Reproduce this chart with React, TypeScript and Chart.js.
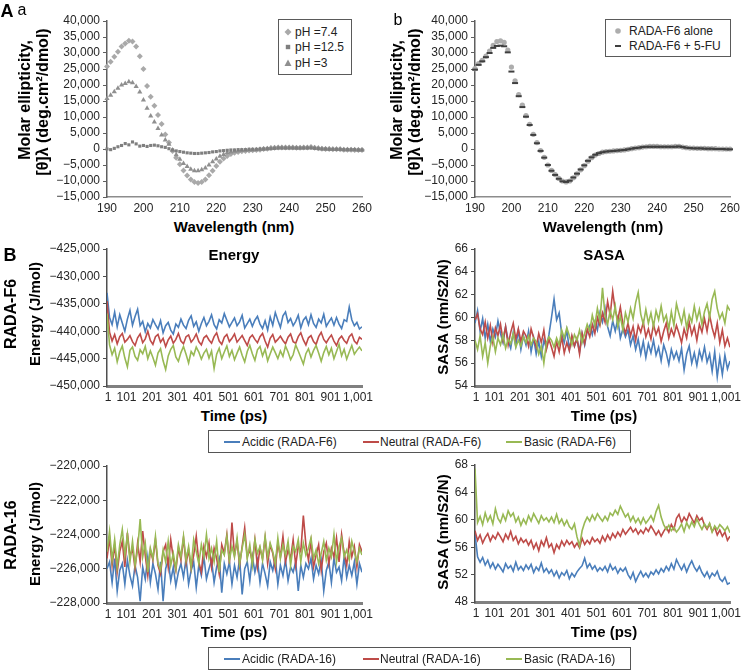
import React, { useEffect, useRef } from "react";
import { Chart, registerables } from "chart.js";

Chart.register(...registerables);

const FONT = '"Liberation Sans", Arial, Helvetica, sans-serif';
Chart.defaults.font.family = FONT;

// ---------- Panel A: CD spectra ----------
const wavelengths = Array.from({ length: 71 }, (_, i) => 190 + i);
const cdXTicks = [190, 200, 210, 220, 230, 240, 250, 260];
const cdYTicks = [-15000, -10000, -5000, 0, 5000, 10000, 15000, 20000, 25000, 30000, 35000, 40000];

const ph74 = [
  25800, 27300, 28800, 30400, 32000, 33000, 33800, 33600, 32000, 29000,
  25000, 19700, 16300, 13500, 10600, 7800, 4500, 2000, -600, -2700,
  -4800, -6700, -8300, -9500, -10300, -10600, -10300, -9500, -8200, -6800,
  -5300, -4000, -3000, -2200, -1600, -1200, -900, -700, -600, -500,
  -400, -300, -200, 0, 100, 300, 400, 500, 500, 500,
  500, 500, 400, 400, 500, 500, 600, 400, 200, 100,
  0, 0, -100, -100, -100, -200, -200, -200, -300, -300,
  -300,
];
const ph125 = [
  0, -200, 200, 700, 1100, 1700, 1300, 2200, 1600, 900,
  1100, 800, 1100, 1200, 1000, 700, 500, 100, -300, -600,
  -800, -1000, -1200, -1300, -1400, -1400, -1300, -1200, -1100, -900,
  -800, -600, -500, -400, -300, -300, -200, -200, -200, -100,
  -100, -100, 0, 0, 100, 100, 200, 300, 300, 300,
  300, 300, 300, 300, 300, 300, 300, 200, 100, 0,
  0, -100, -100, -100, -100, -200, -200, -200, -200, -300,
  -300,
];
const ph3 = [
  15800, 16800, 17900, 19000, 20000, 20500, 21000, 20700, 19500, 17800,
  15300, 12700, 10300, 8400, 6400, 4400, 2800, 1500, -300, -1800,
  -3200, -4500, -5500, -6300, -6800, -6800, -6500, -5900, -5000, -4000,
  -3100, -2300, -1700, -1200, -900, -700, -600, -500, -400, -300,
  -300, -200, -100, 0, 100, 200, 300, 400, 400, 400,
  400, 400, 300, 300, 400, 400, 500, 300, 200, 100,
  0, 0, -100, -100, -100, -200, -200, -200, -200, -300,
  -300,
];
const f6Alone = [
  25100, 26700, 27700, 29000, 30600, 32400, 33600, 33800, 33300, 30900,
  25600, 21300, 17000, 13700, 10400, 7700, 4600, 2000, -500, -2600,
  -5000, -6700, -8000, -9200, -10000, -10300, -10000, -9000, -7800, -6500,
  -5200, -3800, -2700, -1900, -1400, -1000, -800, -700, -600, -500,
  -400, -300, -100, 100, 300, 400, 600, 700, 800, 800,
  800, 700, 700, 700, 700, 800, 800, 600, 400, 300,
  300, 200, 200, 200, 100, 100, 100, 0, 0, 0,
  0,
];
const f6With5FU = [
  24800, 26300, 27400, 28700, 30000, 31600, 32200, 32300, 32100, 30200,
  24200, 20600, 16500, 13100, 10100, 7500, 4400, 1800, -600, -2700,
  -5000, -6800, -8100, -9300, -10100, -10300, -9900, -8900, -7700, -6400,
  -5100, -3700, -2600, -1800, -1300, -1000, -800, -700, -600, -500,
  -400, -300, -100, 100, 300, 400, 600, 700, 700, 700,
  700, 700, 700, 700, 700, 700, 800, 600, 400, 300,
  200, 200, 200, 100, 100, 100, 0, 0, 0, -100,
  -100,
];

// ---------- Panel B: MD time series (sampled every 10 ps) ----------
const times = Array.from({ length: 101 }, (_, i) => 1 + 10 * i);
const timeTicks = [1, 101, 201, 301, 401, 501, 601, 701, 801, 901, 1001];
const energyF6Ticks = [-450000, -445000, -440000, -435000, -430000, -425000];
const sasaF6Ticks = [54, 56, 58, 60, 62, 64, 66];
const energy16Ticks = [-228000, -226000, -224000, -222000, -220000];
const sasa16Ticks = [48, 52, 56, 60, 64, 68];

const energyF6Acidic = [
  -433000, -437500, -438800, -436500, -439200, -437000, -438500, -440000, -437800, -436200,
  -438900, -437300, -436000, -439000, -438200, -440100, -438600, -439400, -437900, -438800,
  -439600, -438100, -440300, -439000, -438400, -439800, -440500, -438700, -439300, -437800,
  -438900, -439500, -438000, -437200, -439100, -438300, -440000, -438600, -437500, -439000,
  -438200, -437000, -438800, -439600, -437900, -438500, -436800, -438000, -439200, -438400,
  -437600, -439000, -438300, -437100, -439400, -438600, -437800, -439100, -438000, -437300,
  -438700, -439500, -438100, -439800, -437400, -438900, -436600, -438000, -439300, -437200,
  -436500, -438400, -437700, -439000, -438200, -437100, -439400, -438000, -437400, -438800,
  -437000, -438600, -439300, -437800, -438500, -436900, -439100, -438300, -437600, -438900,
  -437500, -438700, -439500, -437900, -438200, -435600, -437900, -439000, -438400, -439600,
  -439200,
];
const energyF6Neutral = [
  -434500, -440200, -441800, -440600, -442300, -441000, -440400, -442000, -441500, -440800,
  -441900, -442600, -441200, -440500, -442100, -441400, -440000, -441700, -442400, -441000,
  -440600, -442000, -441300, -442800, -441600, -440900, -442200, -441500, -440400, -441800,
  -442300, -441000, -440700, -442000, -441400, -440500, -441900, -442500, -441200, -440800,
  -441600, -442200, -441000, -440300, -441800, -442400, -441100, -440600, -441900, -441300,
  -440500, -442000, -441400, -440800, -441700, -442600, -441200, -440700, -441500, -442100,
  -441000, -440400, -441800, -442900, -441300, -440600, -442000, -441500, -440900, -441700,
  -442300, -441100, -440500, -441900, -442200, -441000, -440300, -441600, -442500, -441200,
  -440800, -441900, -442400, -441000, -440200, -441500, -442100, -441300, -440700, -441800,
  -442600, -441400, -440900, -441700, -442200, -441000, -440500, -441800, -442300, -441100,
  -441500,
];
const energyF6Basic = [
  -436800, -442500, -444300, -443100, -445600, -443800, -442700, -444900, -446500, -443500,
  -442900, -444600, -445300, -443400, -444100, -442800, -445000, -443600, -444800, -446200,
  -444000, -443200, -445400, -447000, -444500, -443300, -442600, -444700, -445500, -443900,
  -442800, -444200, -445800, -443700, -444400, -442900, -443800, -445100, -444000, -443300,
  -444900, -443600, -446800, -444200, -443100, -445000, -443800, -442700, -444600, -443500,
  -445200, -444000, -442900, -444400, -445600, -443700, -442600, -444100, -445300, -443400,
  -442800, -444500, -443300, -445400, -444100, -442900, -443900, -445000, -443600, -444600,
  -442700, -443800, -445200, -444300, -442500, -443600, -444800, -446000, -444100, -443200,
  -444700, -443500, -442600, -444000, -445500, -443900, -442800, -444300, -443100, -445000,
  -443700, -442400, -444500, -443300, -445100, -443800, -442600, -444200, -443500, -442900,
  -443600,
];

const sasaF6Acidic = [
  59.5, 60.6, 58.8, 59.9, 58.2, 59.4, 57.9, 59.0, 58.3, 59.7,
  58.6, 57.8, 59.2, 58.0, 57.3, 58.7, 57.5, 58.9, 57.2, 58.4,
  57.6, 58.8, 57.0, 58.2, 56.8, 57.9, 56.6, 58.0, 57.3, 58.5,
  60.0, 61.6, 59.8, 60.4, 58.6, 57.8, 58.9, 57.2, 58.3, 57.5,
  58.1, 57.0, 58.6, 57.6, 58.8, 59.3, 58.5, 59.6, 58.9, 60.4,
  59.6, 60.8, 59.2, 58.4, 59.7, 58.8, 59.9, 58.2, 59.0, 58.3,
  58.9, 57.6, 58.4, 57.2, 58.1, 56.8, 57.9, 56.5, 57.7, 56.9,
  58.0, 56.7, 57.4, 56.2, 57.6, 56.9, 55.9, 57.2, 56.4, 57.0,
  56.2, 57.3, 55.4, 56.8, 57.5, 56.0, 56.9, 55.8, 57.1, 56.3,
  57.4, 56.1, 56.8, 55.3, 57.0, 54.8, 56.5, 55.0, 56.7, 55.5,
  56.2,
];
const sasaF6Neutral = [
  59.8, 60.3, 59.0, 58.5, 59.6, 58.2, 59.3, 57.8, 59.1, 58.4,
  59.4, 58.0, 59.2, 57.6, 58.7, 59.5, 58.1, 59.0, 57.9, 58.8,
  58.4, 57.5, 59.0, 58.2, 57.4, 58.6, 57.8, 58.9, 57.2, 58.1,
  57.4, 56.6, 57.9, 57.0, 58.3, 56.9, 57.8, 57.1, 58.4, 57.5,
  58.2, 56.8, 58.6, 57.7, 59.0, 58.3, 59.4, 58.6, 60.0, 59.3,
  60.4, 59.6, 61.4, 60.2, 62.3, 60.6, 59.8, 60.9, 59.4, 58.6,
  59.5, 58.4, 59.2, 58.0, 59.3, 58.7, 59.6, 58.3, 59.0, 58.1,
  59.4, 58.5, 59.1, 57.9, 58.8, 59.5, 58.2, 59.0, 58.4, 59.3,
  58.6, 57.8, 59.0, 58.2, 59.6, 58.5, 59.2, 58.0, 59.4, 58.7,
  59.9, 58.8, 60.2, 59.1, 58.3, 59.5, 57.8, 58.9, 57.5, 58.2,
  57.4,
];
const sasaF6Basic = [
  58.0, 57.2, 58.4, 56.6, 57.8, 56.0, 57.5, 58.3, 57.0, 58.2,
  57.6, 58.5, 57.3, 58.1, 57.7, 58.6, 57.4, 58.0, 57.5, 58.3,
  57.8, 58.4, 57.6, 58.2, 57.9, 56.8, 57.5, 56.0, 57.8, 58.3,
  58.0, 57.4, 58.2, 57.6, 58.9, 58.2, 59.1, 58.4, 57.6, 58.5,
  58.0, 58.9, 57.8, 58.6, 59.4, 58.8, 60.2, 59.3, 60.8, 59.7,
  62.6, 60.2, 59.4, 60.6, 59.8, 61.0, 59.2, 60.1, 58.9, 60.4,
  59.6, 60.8, 59.9, 61.3, 62.2, 60.3, 59.4, 60.7, 59.5, 60.4,
  59.2, 60.6, 59.8, 61.0, 59.7, 60.2, 59.0, 60.5, 59.3, 61.2,
  60.3, 59.5, 60.6, 59.1, 60.2, 59.6, 61.0, 59.8, 60.7, 59.4,
  60.5, 61.2, 60.0, 61.6, 62.3, 60.8, 59.9, 60.4, 59.5, 61.0,
  60.6,
];

const energy16Acidic = [
  -226000, -225600, -226800, -225400, -227300, -226100, -225700, -226900, -225500, -226400,
  -227000, -225800, -226500, -227900, -225900, -226600, -225300, -226800, -225700, -226300,
  -227200, -225600, -227900, -226000, -225500, -226700, -225900, -227000, -226200, -225700,
  -226500, -225400, -226900, -226100, -225600, -227100, -225800, -226400, -225300, -226600,
  -226000, -225500, -226800, -225900, -225400, -227400, -225700, -226300, -225600, -226900,
  -225800, -226500, -225400, -227500, -226000, -225600, -226700, -225300, -226200, -225500,
  -226800, -225700, -226300, -227000, -225600, -226100, -225400, -226900, -225800, -226400,
  -225500, -226700, -225900, -226200, -225600, -227300, -225800, -226500, -225700, -226000,
  -225400, -226600, -225800, -226300, -225500, -227300, -226100, -225600, -226800, -225400,
  -226200, -225900, -226700, -225300, -226500, -225800, -226400, -225600, -226900, -225700,
  -226200,
];
const energy16Neutral = [
  -225400, -224200, -225800, -224600, -226200, -225000, -224400, -225900, -223900, -225300,
  -224800, -226000, -224500, -225600, -223800, -225200, -226400, -224900, -225500, -224300,
  -225800, -226300, -225000, -224600, -225900, -224300, -225400, -226100, -224800, -225500,
  -224200, -225700, -224900, -226000, -225200, -224100, -225600, -226200, -224700, -225300,
  -224500, -225900, -224800, -225400, -226300, -224600, -225100, -224000, -225700, -223300,
  -225200, -224400, -225800, -224700, -223600, -225300, -224900, -225600, -224300, -225900,
  -224800, -225400, -224200, -225700, -224600, -225100, -226000, -224500, -225300, -224100,
  -225600, -224900, -225400, -224300, -225800, -224700, -225000, -222900, -224600, -225500,
  -224400, -225900, -225200, -224600, -226100, -225000, -224500, -225700, -224800, -225300,
  -224200, -225600, -224000, -225100, -225800, -224400, -225300, -224700, -225900, -224600,
  -225000,
];
const energy16Basic = [
  -225000, -223800, -225500, -224300, -225900, -224600, -223700, -225200, -224000, -225600,
  -224400, -225800, -224900, -223100, -225300, -224500, -226200, -224800, -225400, -224100,
  -225700, -226100, -224900, -225600, -224400, -225800, -225100, -226000, -224600, -225300,
  -224100, -225500, -224700, -225900, -224300, -225000, -225700, -224600, -225300, -224000,
  -225400, -224800, -225600, -224400, -226200, -224900, -225200, -224100, -225500, -224700,
  -225300, -224200, -225700, -224800, -224000, -225400, -224600, -225800, -224300, -225100,
  -224700, -225500, -224100, -225300, -224500, -225000, -225700, -224200, -225400, -224600,
  -225200, -224400, -225800, -224700, -225000, -224300, -225600, -224500, -225200, -224800,
  -224200, -225400, -224900, -225700, -225100, -224400, -225500, -224800, -225300, -224000,
  -225600, -224700, -224200, -225300, -224900, -225500, -224400, -225000, -225600, -224800,
  -225200,
];

const sasa16Acidic = [
  58.0, 54.6, 53.8, 54.5, 53.4, 54.1, 53.0, 53.7, 52.8, 53.5,
  53.0, 52.4, 53.6, 52.9, 53.3, 52.5, 53.8, 52.7, 53.2, 52.6,
  53.4, 52.8, 53.5, 52.3, 53.1, 52.6, 53.7, 52.4, 52.9, 52.2,
  52.7, 51.8, 52.5, 51.5, 52.3, 51.9, 52.6, 51.4, 52.2, 51.7,
  52.4, 52.9, 53.3, 54.4, 53.0, 53.6, 52.8, 53.3, 52.5, 53.0,
  52.6, 53.2, 52.4, 53.5, 52.7, 53.1, 52.2, 52.9, 52.5, 53.0,
  52.0, 51.4, 52.3, 51.0, 51.8, 52.5, 51.7, 52.2, 51.6, 52.4,
  52.0, 52.7, 52.1, 52.9, 52.4, 53.2, 52.6, 53.6, 52.8, 54.2,
  53.4, 52.7, 53.5, 52.4, 53.3, 54.0, 53.1, 52.5, 53.2, 52.3,
  51.7, 52.4, 51.5, 52.2, 51.8, 52.5, 51.4, 51.0, 51.6, 50.6,
  50.8,
];
const sasa16Neutral = [
  58.4, 57.0, 57.8, 56.6, 57.4, 58.0, 56.9, 57.7, 57.2, 58.1,
  57.5, 56.8, 57.9, 57.2, 58.3, 57.0, 57.6, 56.5, 57.3, 56.7,
  57.1, 56.3, 57.0, 55.8, 56.6, 55.5, 56.9, 56.2, 57.4, 56.0,
  56.5, 55.2, 56.4, 55.8, 56.9, 56.2, 57.0, 56.4, 56.8, 56.0,
  56.6, 55.9, 57.3, 56.4, 57.0, 56.5, 57.4, 56.8, 57.2, 56.6,
  57.6, 56.9, 57.8, 57.1, 58.0, 57.4, 58.2, 57.6, 58.6, 57.9,
  58.4, 58.9, 58.2, 58.7, 57.9, 58.5, 58.0, 58.8, 58.3, 59.1,
  58.5, 57.8, 58.4, 57.6, 58.3, 58.9, 58.2, 59.3, 58.6, 60.2,
  60.8, 59.6, 60.4, 59.8, 60.9, 60.2, 59.5, 60.6, 59.9, 60.3,
  59.2, 58.6, 59.4, 58.3, 58.9, 57.8, 58.5, 57.6, 58.2, 57.0,
  57.6,
];
const sasa16Basic = [
  67.5, 59.6, 60.5, 59.3, 61.0, 59.8, 60.6, 59.4, 61.6, 60.2,
  59.6, 60.8, 59.9, 61.3, 60.5, 61.0, 59.7, 60.4, 59.2, 60.1,
  59.4, 60.6, 59.8, 60.9, 60.2, 59.5, 60.6, 59.9, 60.3, 59.7,
  60.4, 59.6, 60.8, 59.5, 60.1, 59.2, 59.9, 59.0, 58.6, 59.4,
  57.5, 56.2, 58.4, 59.6, 60.4, 59.8, 60.7, 60.0, 60.9, 60.3,
  59.8, 60.5, 59.9, 61.0, 60.6, 61.4, 60.8, 62.0, 61.2, 60.4,
  60.9, 59.8, 60.5, 59.6, 60.2, 59.4, 60.3, 59.5, 60.0, 60.6,
  59.8, 61.2, 62.1, 60.4, 59.3, 58.6, 59.2, 58.4, 58.9, 58.2,
  58.7, 59.4, 58.3, 59.6, 58.8, 59.7, 59.0, 60.1, 59.3, 58.6,
  59.4, 58.8, 59.5, 58.2, 59.1, 58.6, 59.3, 58.9, 58.4, 59.0,
  58.1,
];

// ---------- styling ----------
const BLUE = "#4A7EBB";
const RED = "#BE4B48";
const GREEN = "#98B954";
const TICK_COLOR = "#262626";

const fmt = (v: number) => {
  const s = Math.abs(v).toLocaleString("en-US");
  return v < 0 ? "\u2212" + s : s;
};

// shifts x tick labels slightly (first / middle / last) like the original layout
const xLabelShift = {
  id: "xLabelShift",
  beforeDraw(chart: any, _args: any, opts: any) {
    if (!opts || !opts.enabled) return;
    const s = chart.scales.x;
    const items = s.getLabelItems();
    const n = items.length;
    items.forEach((it: any, i: number) => {
      const dx = i === 0 ? opts.first : i === n - 1 ? opts.last : opts.mid;
      it.options.translation[0] = s.getPixelForTick(i) + dx;
    });
  },
};

type Area = { l: number; t: number; r: number; b: number };
type Rect = { left: number; top: number; width: number; height: number; area: Area };

function buildOptions(
  rect: Rect,
  xMin: number,
  xMax: number,
  xTicks: number[],
  yMin: number,
  yMax: number,
  yTicks: number[],
  xBorder: { color: string; width: number },
  yBorder: { color: string; width: number },
  shift: any
) {
  const yWidth = rect.area.l - rect.left;
  const xHeight = rect.top + rect.height - rect.area.b;
  return {
    responsive: false,
    animation: false as const,
    events: [] as any[],
    layout: {
      padding: {
        left: 0,
        top: rect.area.t - rect.top,
        right: rect.left + rect.width - rect.area.r,
        bottom: 0,
      },
    },
    plugins: {
      legend: { display: false },
      tooltip: { enabled: false },
      title: { display: false },
      xLabelShift: shift,
    },
    scales: {
      x: {
        type: "linear" as const,
        min: xMin,
        max: xMax,
        afterBuildTicks: (s: any) => {
          s.ticks = xTicks.map((v) => ({ value: v }));
        },
        afterFit: (s: any) => {
          s.height = xHeight;
        },
        ticks: {
          autoSkip: false,
          maxRotation: 0,
          minRotation: 0,
          padding: 4,
          color: TICK_COLOR,
          font: { size: 12, family: FONT },
          callback: (v: any) => fmt(Number(v)),
        },
        grid: { display: false, drawTicks: false, tickLength: 0 },
        border: { display: true, color: xBorder.color, width: xBorder.width },
      },
      y: {
        type: "linear" as const,
        min: yMin,
        max: yMax,
        afterBuildTicks: (s: any) => {
          s.ticks = yTicks.map((v) => ({ value: v }));
        },
        afterFit: (s: any) => {
          s.width = yWidth;
        },
        ticks: {
          autoSkip: false,
          padding: 3,
          color: TICK_COLOR,
          font: { size: 12, family: FONT },
          callback: (v: any) => fmt(Number(v)),
        },
        grid: {
          display: true,
          drawOnChartArea: false,
          drawTicks: true,
          tickLength: 4,
          color: yBorder.color,
          lineWidth: 1,
        },
        border: { display: true, color: yBorder.color, width: yBorder.width },
      },
    },
  };
}

function ChartBox({ rect, make }: { rect: Rect; make: () => any }) {
  const ref = useRef<HTMLCanvasElement | null>(null);
  useEffect(() => {
    if (!ref.current) return;
    const chart = new Chart(ref.current, make());
    return () => chart.destroy();
  }, []);
  return (
    <canvas
      ref={ref}
      width={rect.width}
      height={rect.height}
      style={{
        position: "absolute",
        left: rect.left,
        top: rect.top,
        width: rect.width,
        height: rect.height,
      }}
    />
  );
}

function T({
  x,
  y,
  text,
  size = 12,
  bold = false,
  rot = false,
  left = false,
  color = "#000",
}: {
  x: number;
  y: number;
  text: string;
  size?: number;
  bold?: boolean;
  rot?: boolean;
  left?: boolean;
  color?: string;
}) {
  const tr = left ? "translate(0, -50%)" : `translate(-50%, -50%)${rot ? " rotate(-90deg)" : ""}`;
  return (
    <div
      style={{
        position: "absolute",
        left: x,
        top: y,
        transform: tr,
        fontFamily: FONT,
        fontSize: size,
        fontWeight: bold ? 700 : 400,
        lineHeight: 1,
        whiteSpace: "nowrap",
        color,
      }}
    >
      {text}
    </div>
  );
}

// ---------- chart rectangles ----------
const rectAa: Rect = { left: 0, top: 0, width: 385, height: 216, area: { l: 107, t: 21, r: 362, b: 197 } };
const rectAb: Rect = { left: 372, top: 0, width: 378, height: 216, area: { l: 475, t: 21, r: 730, b: 197 } };
const rectE1: Rect = { left: 0, top: 236, width: 385, height: 170, area: { l: 107, t: 249, r: 362, b: 386 } };
const rectS1: Rect = { left: 372, top: 236, width: 380, height: 170, area: { l: 475, t: 249, r: 730, b: 386 } };
const rectE2: Rect = { left: 0, top: 453, width: 385, height: 170, area: { l: 107, t: 466, r: 362, b: 603 } };
const rectS2: Rect = { left: 372, top: 452, width: 380, height: 170, area: { l: 475, t: 465, r: 730, b: 602 } };

const cdXBorder = { color: "#8c8c8c", width: 1.5 };
const cdYBorder = { color: "#5f5f5f", width: 1.5 };
const mdXBorder = { color: "#808080", width: 3 };
const mdYBorder = { color: "#4f4f4f", width: 1.5 };
const noShift = { enabled: false };
const mdShift = { enabled: true, first: 1, mid: -6, last: -4 };

function cdPoint(data: number[], style: string, color: string, radius: number, extra: any = {}) {
  return {
    data,
    showLine: false,
    pointStyle: style,
    pointRadius: radius,
    pointBackgroundColor: color,
    pointBorderColor: color,
    pointBorderWidth: 0,
    clip: false,
    ...extra,
  };
}

function makeAa() {
  return {
    type: "line",
    data: {
      labels: wavelengths,
      datasets: [
        cdPoint(ph125, "rect", "#7f7f7f", 2.2),
        cdPoint(ph3, "triangle", "#8f8f8f", 3),
        cdPoint(ph74, "rectRot", "#a9a9a9", 3),
      ],
    },
    options: buildOptions(rectAa, 190, 260, cdXTicks, -15000, 40000, cdYTicks, cdXBorder, cdYBorder, noShift),
    plugins: [xLabelShift],
  };
}

function makeAb() {
  return {
    type: "line",
    data: {
      labels: wavelengths,
      datasets: [
        cdPoint(f6With5FU, "line", "#3f3f3f", 3, { pointBorderWidth: 2 }),
        cdPoint(f6Alone, "circle", "#adadad", 2.6),
      ],
    },
    options: buildOptions(rectAb, 190, 260, cdXTicks, -15000, 40000, cdYTicks, cdXBorder, cdYBorder, noShift),
    plugins: [xLabelShift],
  };
}

function mdLine(data: number[], color: string, order: number) {
  return {
    data,
    borderColor: color,
    backgroundColor: color,
    borderWidth: 1.6,
    pointRadius: 0,
    tension: 0,
    fill: false,
    order,
  };
}

function makeMd(rect: Rect, a: number[], n: number[], b: number[], yMin: number, yMax: number, yTicks: number[]) {
  return () => ({
    type: "line",
    data: {
      labels: times,
      datasets: [mdLine(a, BLUE, 3), mdLine(n, RED, 2), mdLine(b, GREEN, 1)],
    },
    options: buildOptions(rect, 1, 1001, timeTicks, yMin, yMax, yTicks, mdXBorder, mdYBorder, mdShift),
    plugins: [xLabelShift],
  });
}

function MarkerSvg({ kind, color }: { kind: string; color: string }) {
  let shape: any = null;
  if (kind === "diamond") shape = <polygon points="5,1.5 8.5,5 5,8.5 1.5,5" fill={color} />;
  if (kind === "square") shape = <rect x="2.8" y="2.8" width="4.4" height="4.4" fill={color} />;
  if (kind === "triangle") shape = <polygon points="5,1.5 8.5,8 1.5,8" fill={color} />;
  if (kind === "circle") shape = <circle cx="5" cy="5" r="2.8" fill={color} />;
  if (kind === "dash") shape = <rect x="2" y="4" width="6" height="2" fill={color} />;
  return (
    <svg width="10" height="10" style={{ display: "block" }}>
      {shape}
    </svg>
  );
}

function CdLegend({
  x,
  y,
  w,
  h,
  items,
  markerX,
  textX,
  rows,
}: {
  x: number;
  y: number;
  w: number;
  h: number;
  items: { kind: string; color: string; label: string }[];
  markerX: number;
  textX: number;
  rows: number[];
}) {
  return (
    <div
      style={{
        position: "absolute",
        left: x,
        top: y,
        width: w,
        height: h,
        border: "1px solid #5a5a5a",
        boxSizing: "border-box",
        background: "#fff",
      }}
    >
      {items.map((it, i) => (
        <React.Fragment key={i}>
          <div style={{ position: "absolute", left: markerX - 5, top: rows[i] - 5 }}>
            <MarkerSvg kind={it.kind} color={it.color} />
          </div>
          <T x={textX} y={rows[i]} text={it.label} size={12} left color="#222" />
        </React.Fragment>
      ))}
    </div>
  );
}

function MdLegend({ y, suffix }: { y: number; suffix: string }) {
  const entries = [
    { color: BLUE, label: `Acidic (${suffix})`, lx: 15, tx: 33 },
    { color: RED, label: `Neutral (${suffix})`, lx: 154, tx: 171 },
    { color: GREEN, label: `Basic (${suffix})`, lx: 297, tx: 315 },
  ];
  return (
    <div
      style={{
        position: "absolute",
        left: 208,
        top: y,
        width: 423,
        height: 23,
        border: "1px solid #555",
        boxSizing: "border-box",
        background: "#fff",
      }}
    >
      {entries.map((e, i) => (
        <React.Fragment key={i}>
          <div
            style={{
              position: "absolute",
              left: e.lx,
              top: 9.5,
              width: 16,
              height: 2.5,
              background: e.color,
            }}
          />
          <T x={e.tx} y={10.5} text={e.label} size={12} left color="#222" />
        </React.Fragment>
      ))}
    </div>
  );
}

export default function App() {
  return (
    <div
      style={{
        position: "fixed",
        left: 0,
        top: 0,
        width: 744,
        height: 672,
        overflow: "hidden",
        background: "#fff",
      }}
    >
      <ChartBox rect={rectAa} make={makeAa} />
      <ChartBox rect={rectAb} make={makeAb} />
      <ChartBox rect={rectE1} make={makeMd(rectE1, energyF6Acidic, energyF6Neutral, energyF6Basic, -450000, -425000, energyF6Ticks)} />
      <ChartBox rect={rectS1} make={makeMd(rectS1, sasaF6Acidic, sasaF6Neutral, sasaF6Basic, 54, 66, sasaF6Ticks)} />
      <ChartBox rect={rectE2} make={makeMd(rectE2, energy16Acidic, energy16Neutral, energy16Basic, -228000, -220000, energy16Ticks)} />
      <ChartBox rect={rectS2} make={makeMd(rectS2, sasa16Acidic, sasa16Neutral, sasa16Basic, 48, 68, sasa16Ticks)} />

      {/* Panel labels */}
      <T x={7} y={11} text="A" size={18} bold />
      <T x={22} y={10} text="a" size={16} />
      <T x={398} y={20} text="b" size={16} />
      <T x={10} y={255} text="B" size={18} bold />

      {/* Panel A axis titles */}
      <T x={25} y={100} text="Molar ellipticity," size={16} bold rot />
      <T x={43} y={102} text="[θ]λ (deg.cm²/dmol)" size={16} bold rot />
      <T x={397} y={100} text="Molar ellipticity," size={16} bold rot />
      <T x={415} y={102} text="[θ]λ (deg.cm²/dmol)" size={16} bold rot />
      <T x={234} y={226} text="Wavelength (nm)" size={15} bold />
      <T x={603} y={226} text="Wavelength (nm)" size={15} bold />

      <CdLegend
        x={278}
        y={19}
        w={74}
        h={56}
        markerX={9}
        textX={16}
        rows={[12, 27, 43]}
        items={[
          { kind: "diamond", color: "#a9a9a9", label: "pH =7.4" },
          { kind: "square", color: "#7f7f7f", label: "pH =12.5" },
          { kind: "triangle", color: "#8f8f8f", label: "pH =3" },
        ]}
      />
      <CdLegend
        x={605}
        y={19}
        w={126}
        h={38}
        markerX={12}
        textX={23}
        rows={[11, 26]}
        items={[
          { kind: "circle", color: "#adadad", label: "RADA-F6 alone" },
          { kind: "dash", color: "#3f3f3f", label: "RADA-F6 + 5-FU" },
        ]}
      />

      {/* Panel B titles */}
      <T x={234} y={254} text="Energy" size={15} bold />
      <T x={604} y={254} text="SASA" size={15} bold />
      <T x={234} y={415} text="Time (ps)" size={15} bold />
      <T x={604} y={415} text="Time (ps)" size={15} bold />
      <T x={234} y={631} text="Time (ps)" size={15} bold />
      <T x={604} y={631} text="Time (ps)" size={15} bold />

      <T x={11} y={314} text="RADA-F6" size={16} bold rot />
      <T x={34} y={314} text="Energy (J/mol)" size={15} bold rot />
      <T x={442} y={317} text="SASA (nm/S2/N)" size={15} bold rot />
      <T x={11} y={535} text="RADA-16" size={16} bold rot />
      <T x={34} y={534} text="Energy (J/mol)" size={15} bold rot />
      <T x={442} y={532} text="SASA (nm/S2/N)" size={15} bold rot />

      <MdLegend y={430} suffix="RADA-F6" />
      <MdLegend y={647} suffix="RADA-16" />
    </div>
  );
}
